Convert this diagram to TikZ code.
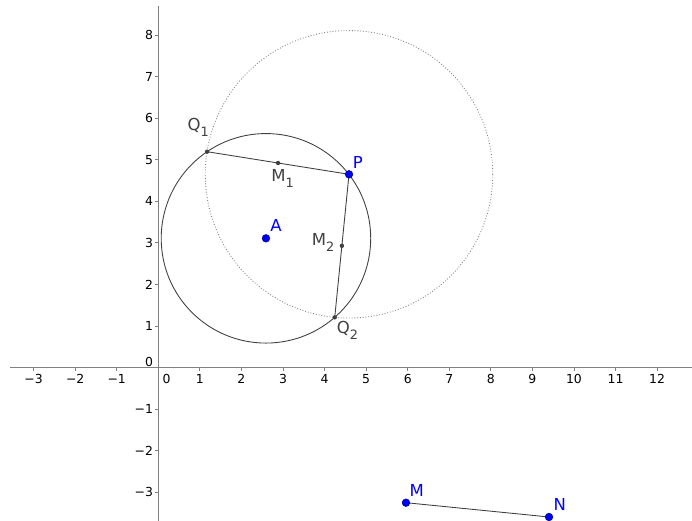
\documentclass[tikz,border=0pt]{standalone}
\usepackage{fontspec}
\setmainfont{DejaVu Sans}
\usetikzlibrary{calc}
\definecolor{ggblue}{RGB}{0,0,255}
\definecolor{ggdark}{RGB}{64,64,64}
\definecolor{ggaxis}{RGB}{128,128,128}
\newcommand{\lowsub}[1]{\raisebox{-4pt}{\fontsize{8.8}{10}\selectfont #1}}
\begin{document}
\begin{tikzpicture}[x=1cm, y=1cm,
  axisline/.style={ggaxis, line width=0.75pt},
  tickmark/.style={ggaxis, line width=0.6pt},
  ticklbl/.style={font=\fontsize{8.5}{10}\selectfont, inner sep=0pt},
  circline/.style={ggdark, line width=0.6pt},
  dotcirc/.style={ggaxis, line width=0.6pt, dash pattern=on 0.6pt off 1.3pt},
  segline/.style={ggdark, line width=0.6pt},
  bluedot/.style={fill=ggblue, draw=ggblue!55!black, line width=0.4pt},
  darkdot/.style={fill=ggdark},
  ptlbl/.style={font=\fontsize{11.3}{13}\selectfont, inner sep=0pt, anchor=base west}]
  \useasboundingbox (-3.808,-3.690) rectangle (12.839,8.843);
  % axes
  \draw[axisline] (-3.567,0) -- (12.839,0);
  \draw[axisline] (0,-3.690) -- (0,8.699);
  \foreach \x/\t in {-3/−3,-2/−2,-1/−1,1/1,2/2,3/3,4/4,5/5,6/6,7/7,8/8,9/9,10/10,11/11,12/12} {
    \draw[tickmark] (\x,0) -- (\x,-0.07);
    \node[ticklbl] (xl\x) at (\x,-0.275) {\t};
  }
  \foreach \y/\t in {-3/−3,-2/−2,-1/−1,1/1,2/2,3/3,4/4,5/5,6/6,7/7,8/8} {
    \draw[tickmark] (0,\y) -- (-0.07,\y);
    \node[ticklbl, anchor=east] (yl\y) at (-0.12,\y) {\t};
  }
  \node[ticklbl] (xl0) at (0.2,-0.275) {0};
  \node[ticklbl, anchor=east] (yl0) at (-0.12,0.13) {0};
  % points
  \coordinate (A) at (2.59,3.11);
  \coordinate (P) at (4.588,4.65);
  \coordinate (M) at (5.958,-3.25);
  \coordinate (N) at (9.399,-3.594);
  \coordinate (Q1) at (1.173,5.194);
  \coordinate (Q2) at (4.2445,1.209);
  \coordinate (M1) at ($(Q1)!0.5!(P)$);
  \coordinate (M2) at ($(P)!0.5!(Q2)$);
  % circles
  \draw[circline] (A) circle (2.52);
  \draw[dotcirc] (P) circle (3.458);
  % segments
  \draw[segline] (Q1) -- (P);
  \draw[segline] (P) -- (Q2);
  \draw[segline] (M) -- (N);
  % dots
  \foreach \p in {Q1,Q2,M1,M2} \fill[darkdot] (\p) circle (1.5pt);
  \foreach \p in {A,P,M,N} \filldraw[bluedot] (\p) circle (2.6pt);
  % labels
  \node[ptlbl, ggdark] (lQ1) at (0.698,5.703) {Q\lowsub{1}};
  \node[ptlbl, ggdark] (lM1) at (2.711,4.472) {M\lowsub{1}};
  \node[ptlbl, ggdark] (lM2) at (3.69,2.933) {M\lowsub{2}};
  \node[ptlbl, ggdark] (lQ2) at (4.29,0.825) {Q\lowsub{2}};
  \node[ptlbl, ggblue] (lA) at (2.687,3.269) {A};
  \node[ptlbl, ggblue] (lP) at (4.676,4.794) {P};
  \node[ptlbl, ggblue] (lM) at (6.038,-3.089) {M};
  \node[ptlbl, ggblue] (lN) at (9.502,-3.426) {N};
\end{tikzpicture}
\end{document}
